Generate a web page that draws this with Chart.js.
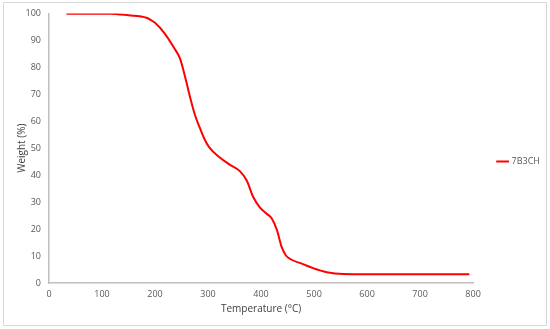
<!DOCTYPE html>
<html>
<head>
<meta charset="utf-8">
<script src="https://cdn.jsdelivr.net/npm/chart.js@4"></script>
<style>
  html, body { margin: 0; padding: 0; background: #fff; }
  #wrap { position: relative; width: 550px; height: 329px; }
  #frame { position: absolute; left: 3px; top: 2px; width: 542px; height: 322px; border: 1px solid #d9d9d9; pointer-events: none; }
</style>
</head>
<body>
<div id="wrap">
  <canvas id="tga" width="550" height="329"></canvas>
  <div id="frame"></div>
</div>
<script>
// TGA curve
const temperature = [33, 80, 115, 150, 184, 190, 200, 218, 235, 247, 258, 266, 275, 284, 293, 302, 321, 340, 360, 373, 385, 398, 410, 420, 430, 439, 447, 455, 479, 498, 524, 555, 600, 700, 793];
const weight7B3CH = [99.9, 99.9, 99.9, 99.3, 98.4, 97.8, 96.5, 92.6, 87.5, 83.3, 75.5, 69, 62.5, 57.8, 53.5, 50.4, 46.7, 44, 41.5, 38, 32, 28, 25.8, 24, 19.6, 13.3, 10.2, 8.9, 7, 5.5, 4, 3.3, 3.2, 3.2, 3.2];
const seriesName = '7B3CH';
const xTicks = [0, 100, 200, 300, 400, 500, 600, 700, 800];
const yTicks = [0, 10, 20, 30, 40, 50, 60, 70, 80, 90, 100];

const points = temperature.map((t, i) => ({ x: t, y: weight7B3CH[i] }));
const fontFamily = "'Open Sans', 'Noto Sans', sans-serif";
const axisGrey = '#bfbfbf';
const labelGrey = '#595959';

new Chart(document.getElementById('tga').getContext('2d'), {
    type: 'scatter',
    data: {
        datasets: [{
            label: seriesName,
            data: points,
            showLine: true,
            borderColor: '#ff0000',
            backgroundColor: '#ff0000',
            borderWidth: 2,
            pointRadius: 0,
            tension: 0.4,
            cubicInterpolationMode: 'monotone'
        }]
    },
    options: {
        responsive: false,
        animation: false,
        layout: { padding: { left: 0, right: 0, top: 8, bottom: 14 } },
        plugins: {
            legend: {
                position: 'right',
                labels: {
                    usePointStyle: true,
                    pointStyle: 'line',
                    boxWidth: 14,
                    padding: 25,
                    color: labelGrey,
                    font: { family: fontFamily, size: 9 }
                }
            },
            tooltip: { enabled: false }
        },
        scales: {
            x: {
                type: 'linear',
                min: 0,
                max: 800,
                afterBuildTicks: s => { s.ticks = xTicks.map(v => ({ value: v })); },
                afterFit: s => { s.height = 32; },
                grid: { display: false, drawTicks: false },
                border: { display: true, color: axisGrey, width: 1.5 },
                ticks: { color: labelGrey, padding: 6, font: { family: fontFamily, size: 9 } },
                title: { display: true, text: 'Temperature (°C)', color: '#404040', padding: { top: 4, bottom: 0 }, font: { family: fontFamily, size: 10 } }
            },
            y: {
                min: 0,
                max: 100,
                afterBuildTicks: s => { s.ticks = yTicks.map(v => ({ value: v })); },
                afterFit: s => { s.width = 49; },
                grid: { display: false, drawTicks: false },
                border: { display: true, color: axisGrey, width: 1.5 },
                ticks: { color: labelGrey, padding: 8, font: { family: fontFamily, size: 9 } },
                title: { display: true, text: 'Weight (%)', color: '#404040', padding: { top: 16, bottom: 4 }, font: { family: fontFamily, size: 10 } }
            }
        }
    }
});
</script>
</body>
</html>
